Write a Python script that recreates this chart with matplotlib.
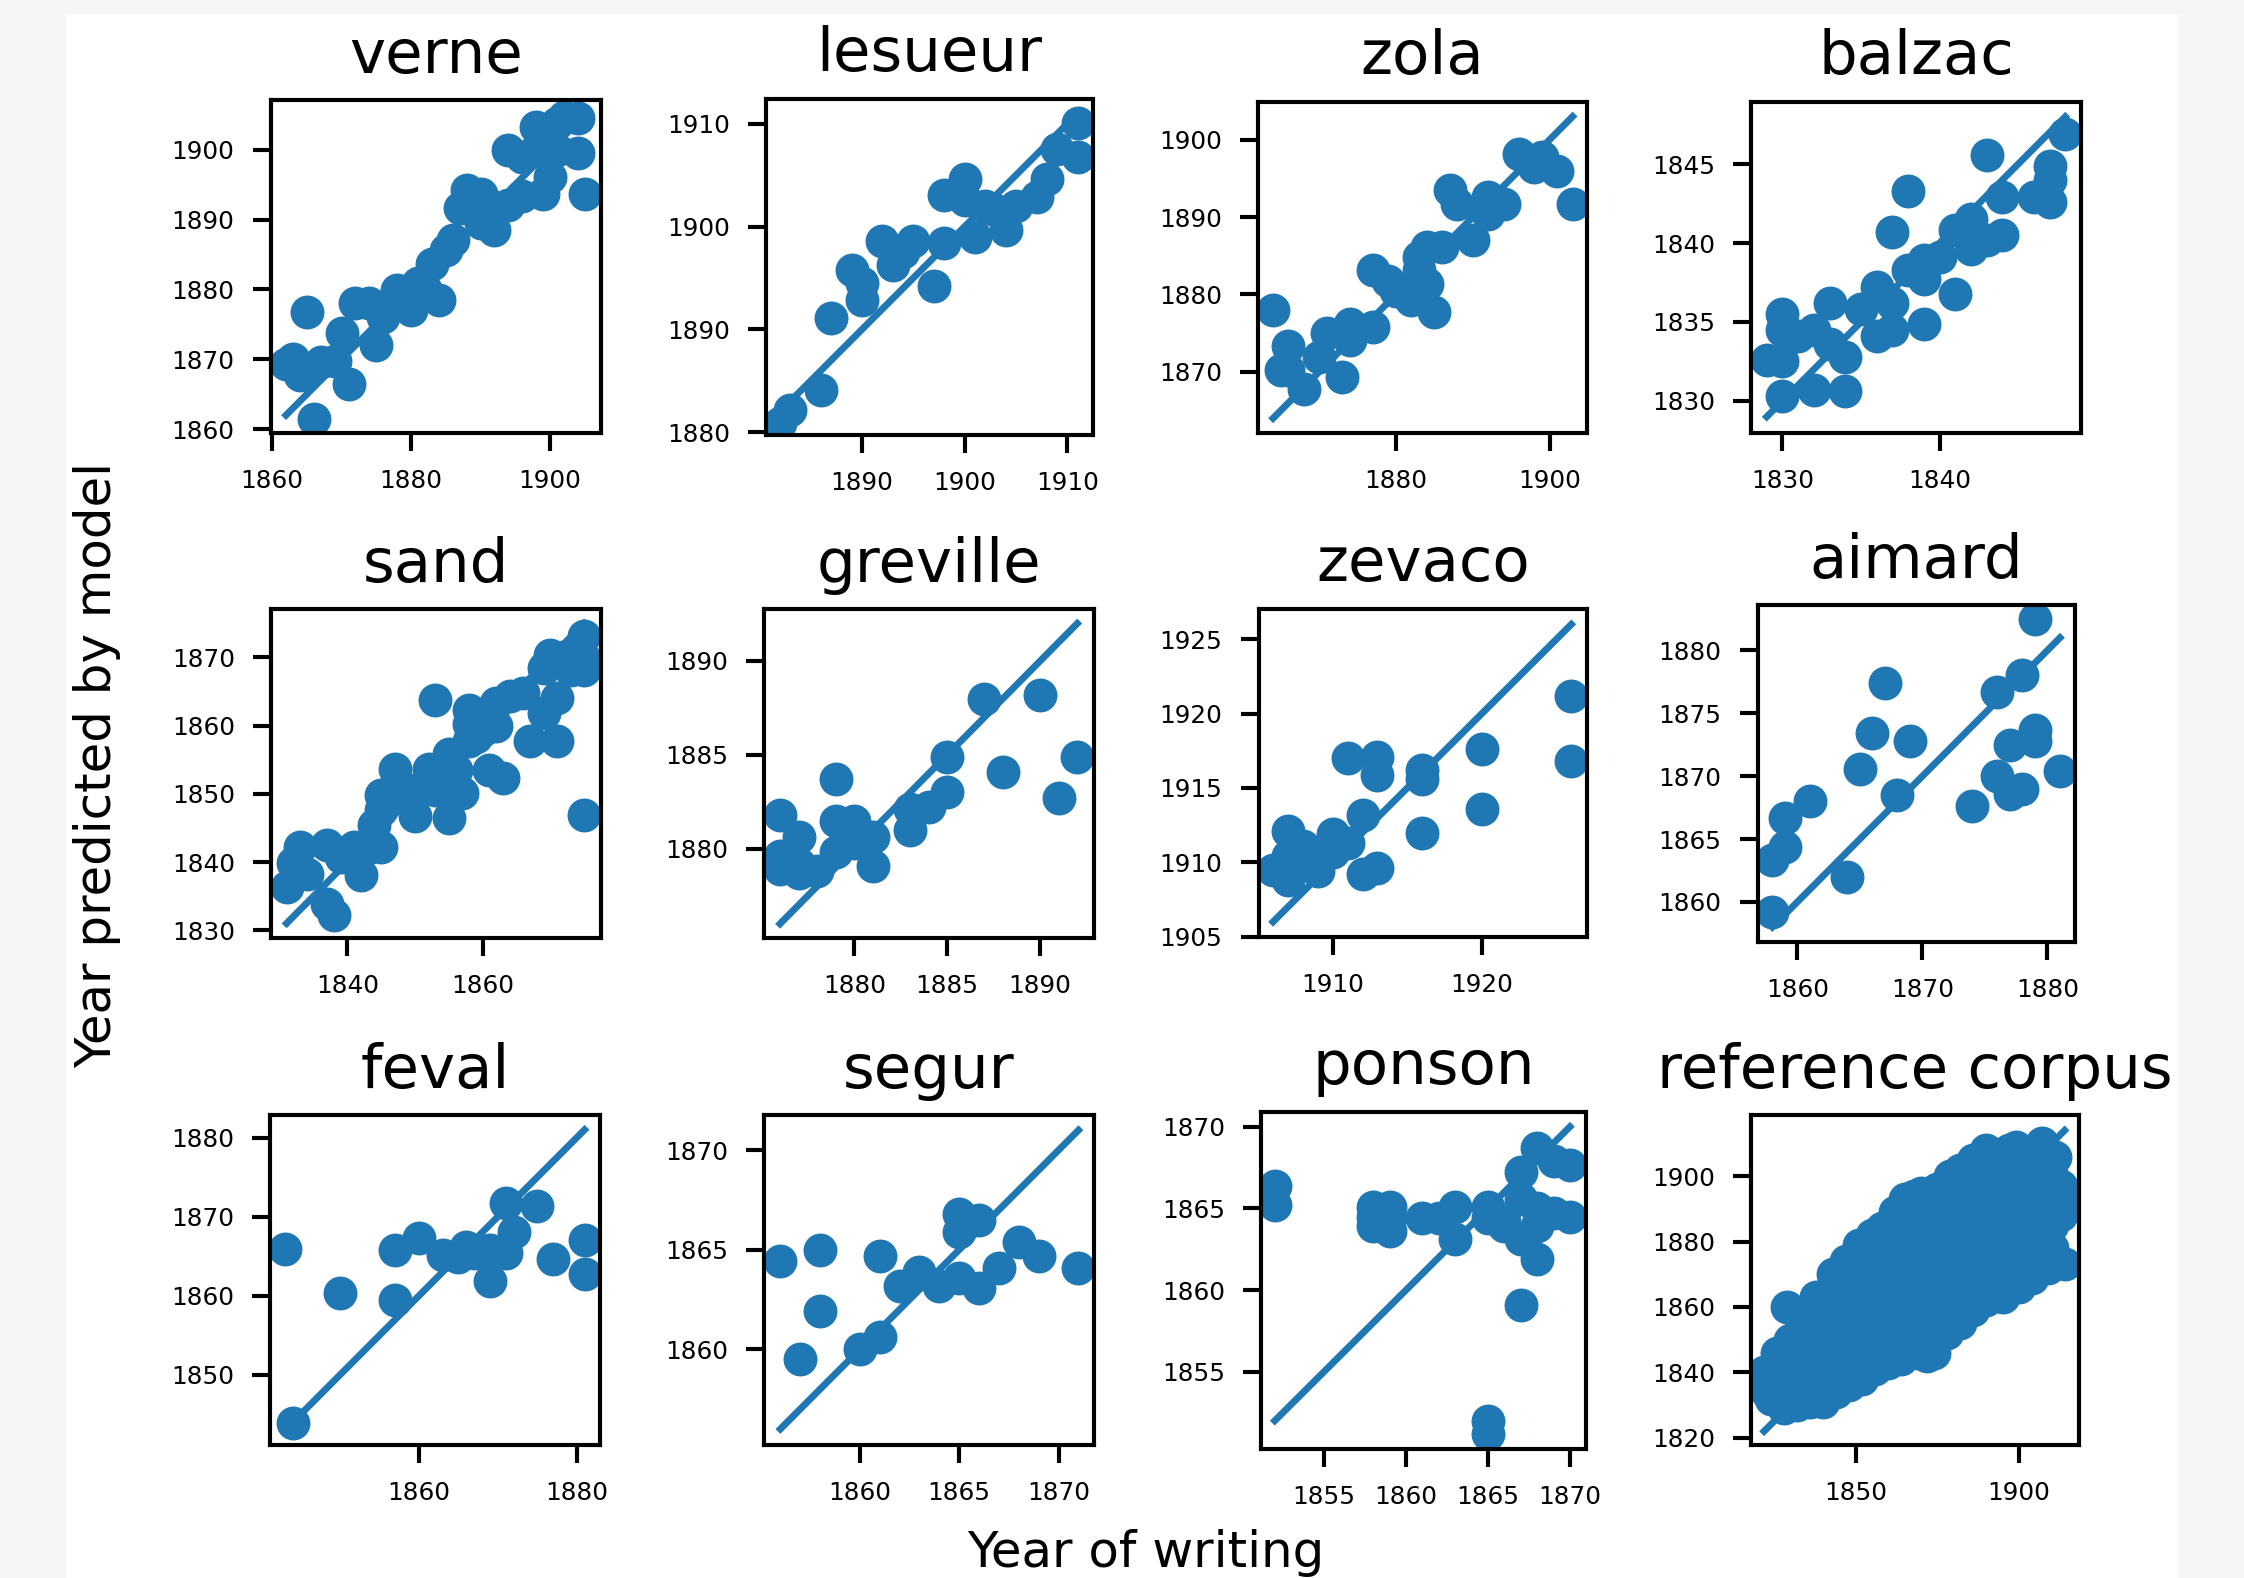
import matplotlib
matplotlib.use("Agg")
import matplotlib.pyplot as plt
from matplotlib.patches import Rectangle

W, H = 2244, 1578
DPI = 330

# ---------------- data ----------------
titles = ["verne", "lesueur", "zola", "balzac",
          "sand", "greville", "zevaco", "aimard",
          "feval", "segur", "ponson", "reference corpus"]

verne_x = [1862, 1863, 1864, 1865, 1866, 1867, 1869, 1870, 1871, 1872, 1874, 1875, 1876, 1877,
           1878, 1879, 1880, 1881, 1882, 1883, 1884, 1885, 1886, 1887, 1888, 1890, 1890, 1892,
           1892, 1894, 1894, 1896, 1896, 1898, 1898, 1899, 1900, 1901, 1901, 1902, 1904, 1904, 1905]
verne_y = [1869.4, 1870.1, 1867.7, 1876.8, 1861.5, 1869.6, 1869.8, 1873.7, 1866.5, 1878.0, 1878.0,
           1872.0, 1876.1, 1877.5, 1879.9, 1879.0, 1877.0, 1880.9, 1880.0, 1883.7, 1878.5, 1885.6,
           1887.1, 1891.6, 1894.2, 1893.7, 1889.5, 1888.5, 1891.8, 1892.1, 1900.0, 1893.3, 1899.0,
           1903.3, 1900.0, 1893.7, 1896.1, 1900.0, 1903.8, 1904.7, 1904.5, 1899.5, 1893.7]

lesueur_x = [1882, 1883, 1886, 1887, 1889, 1890, 1890, 1892, 1893, 1894, 1895, 1897, 1898, 1898,
             1900, 1900, 1901, 1902, 1903, 1904, 1905, 1907, 1908, 1909, 1911, 1911]
lesueur_y = [1880.9, 1882.2, 1884.1, 1891.1, 1895.8, 1894.5, 1892.9, 1898.6, 1896.3, 1897.5, 1898.6,
             1894.2, 1898.4, 1903.1, 1904.6, 1902.6, 1899.0, 1902.0, 1901.6, 1899.7, 1902.0, 1902.9,
             1904.6, 1907.5, 1910.1, 1906.8]

zola_x = [1864, 1865, 1866, 1866, 1868, 1870, 1871, 1873, 1874, 1874, 1877, 1877, 1879, 1880, 1882,
          1883, 1883, 1884, 1884, 1885, 1886, 1887, 1888, 1890, 1892, 1892, 1894, 1896, 1898, 1899,
          1901, 1903]
zola_y = [1878.0, 1870.2, 1873.4, 1870.2, 1867.8, 1871.9, 1875.0, 1869.4, 1874.1, 1876.2, 1875.8,
          1883.1, 1881.8, 1880.5, 1879.3, 1883.1, 1884.9, 1881.4, 1886.1, 1877.7, 1886.1, 1893.5,
          1891.7, 1887.0, 1892.6, 1890.4, 1891.7, 1898.2, 1896.5, 1897.8, 1896.0, 1891.7]

balzac_x = [1829, 1830, 1830, 1830, 1830, 1831, 1832, 1832, 1833, 1833, 1834, 1834, 1835, 1836,
            1836, 1837, 1837, 1837, 1838, 1838, 1839, 1839, 1839, 1840, 1841, 1841, 1842, 1842,
            1843, 1844, 1843, 1844, 1846, 1847, 1847, 1847, 1848]
balzac_y = [1832.6, 1835.5, 1834.5, 1832.5, 1830.3, 1834.1, 1830.7, 1834.5, 1836.2, 1833.6, 1832.8,
            1830.6, 1835.8, 1837.2, 1834.1, 1834.5, 1836.2, 1840.7, 1843.3, 1838.3, 1837.7, 1834.9,
            1838.9, 1839.1, 1836.8, 1840.8, 1841.5, 1839.6, 1840.2, 1840.5, 1845.6, 1842.9, 1842.9,
            1842.6, 1844.9, 1844.0, 1846.9]

sand_x = [1831, 1833, 1832, 1834, 1837, 1838, 1837, 1839, 1841, 1842, 1843, 1844, 1845, 1845, 1845,
          1847, 1847, 1848, 1850, 1850, 1852, 1853, 1853, 1855, 1855, 1857, 1856, 1858, 1858, 1858,
          1860, 1859, 1861, 1861, 1863, 1862, 1862, 1864, 1866, 1867, 1869, 1869, 1871, 1871, 1872,
          1870, 1873, 1875, 1875, 1875, 1875]
sand_y = [1836.4, 1842.2, 1839.8, 1838.3, 1842.5, 1832.2, 1833.9, 1840.8, 1842.2, 1838.1, 1842.0,
          1845.4, 1842.2, 1847.6, 1849.8, 1853.7, 1851.0, 1850.0, 1846.8, 1850.6, 1853.7, 1863.8,
          1850.6, 1846.4, 1855.9, 1850.1, 1853.5, 1857.8, 1862.3, 1860.3, 1859.4, 1858.4, 1861.3,
          1853.5, 1852.3, 1859.9, 1863.3, 1864.3, 1864.8, 1857.7, 1868.4, 1861.8, 1864.0, 1857.7,
          1870.1, 1870.4, 1868.2, 1873.1, 1868.2, 1869.9, 1846.9]

greville_x = [1876, 1876, 1876, 1877, 1877, 1877, 1878, 1879, 1879, 1879, 1880, 1880, 1881, 1881,
              1883, 1883, 1884, 1885, 1885, 1887, 1888, 1890, 1891, 1892]
greville_y = [1881.8, 1878.9, 1879.6, 1880.6, 1878.7, 1879.2, 1878.8, 1879.8, 1883.7, 1881.5,
              1880.3, 1881.5, 1880.6, 1879.1, 1881.0, 1882.1, 1882.2, 1883.0, 1884.9, 1888.0,
              1884.1, 1888.2, 1882.7, 1884.9]

zevaco_x = [1906, 1907, 1907, 1907, 1908, 1908, 1909, 1910, 1910, 1911, 1911, 1912, 1912, 1913,
            1913, 1913, 1916, 1916, 1916, 1920, 1920, 1926, 1926]
zevaco_y = [1909.5, 1912.1, 1908.8, 1910.4, 1911.1, 1909.8, 1909.4, 1911.9, 1910.7, 1911.3, 1917.0,
            1913.2, 1909.2, 1917.1, 1915.9, 1909.6, 1916.2, 1915.6, 1912.0, 1917.6, 1913.6, 1921.2,
            1916.8]

aimard_x = [1858, 1858, 1859, 1859, 1861, 1864, 1865, 1866, 1867, 1868, 1869, 1874, 1876, 1876,
            1877, 1877, 1878, 1878, 1879, 1879, 1879, 1881]
aimard_y = [1859.2, 1863.3, 1866.7, 1864.4, 1868.0, 1862.0, 1870.6, 1873.4, 1877.4, 1868.5, 1872.8,
            1867.6, 1876.7, 1870.0, 1872.5, 1868.6, 1869.0, 1878.0, 1873.7, 1872.8, 1882.5, 1870.4]

feval_x = [1843, 1844, 1850, 1857, 1857, 1860, 1863, 1865, 1866, 1867, 1869, 1869, 1871, 1871,
           1872, 1875, 1877, 1881, 1881]
feval_y = [1865.9, 1843.9, 1860.4, 1865.8, 1859.5, 1867.3, 1865.1, 1864.9, 1866.2, 1865.4, 1861.8,
           1865.8, 1865.4, 1871.7, 1868.1, 1871.4, 1864.7, 1867.1, 1862.8]

segur_x = [1856, 1858, 1858, 1857, 1861, 1860, 1861, 1862, 1863, 1864, 1865, 1865, 1865, 1866,
           1866, 1867, 1868, 1869, 1871]
segur_y = [1864.45, 1865.0, 1861.9, 1859.5, 1864.7, 1860.0, 1860.6, 1863.2, 1863.9, 1863.2, 1863.6,
           1865.9, 1866.8, 1866.5, 1863.1, 1864.1, 1865.4, 1864.7, 1864.1]

ponson_x = [1852, 1852, 1858, 1858, 1858, 1859, 1859, 1859, 1861, 1862, 1863, 1863, 1865, 1865,
            1865, 1865, 1866, 1867, 1867, 1867, 1866, 1868, 1868, 1868, 1867, 1868, 1869, 1870,
            1870, 1869]
ponson_y = [1866.4, 1865.2, 1865.1, 1863.9, 1864.5, 1865.1, 1863.6, 1864.4, 1864.4, 1864.4, 1865.1,
            1863.1, 1865.1, 1864.4, 1852.0, 1851.2, 1863.9, 1867.2, 1859.1, 1865.6, 1864.2, 1868.7,
            1861.9, 1865.0, 1863.1, 1863.9, 1867.9, 1867.65, 1864.5, 1864.7]

ref_x = [1822, 1823, 1824, 1826, 1828, 1829, 1832, 1833, 1836, 1838, 1840, 1843, 1844, 1847, 1848,
         1851, 1852, 1855, 1856, 1858, 1860, 1862, 1864, 1865, 1869, 1870, 1872, 1874, 1875, 1878,
         1879, 1882, 1882, 1886, 1886, 1890, 1890, 1894, 1895, 1897, 1900, 1901, 1904, 1904, 1907,
         1909, 1911, 1913, 1913, 1914, 1914, 1868, 1888, 1899,
         1826, 1826, 1830, 1830, 1830, 1834, 1834, 1834, 1838, 1838, 1838, 1838,
         1842, 1842, 1842, 1842, 1846, 1846, 1846, 1846, 1846, 1850, 1850, 1850, 1850, 1850,
         1854, 1854, 1854, 1854, 1854, 1858, 1858, 1858, 1858, 1858,
         1862, 1862, 1862, 1862, 1862, 1862, 1866, 1866, 1866, 1866, 1866, 1866,
         1870, 1870, 1870, 1870, 1870, 1870, 1874, 1874, 1874, 1874, 1874, 1874,
         1878, 1878, 1878, 1878, 1878, 1878, 1882, 1882, 1882, 1882, 1882, 1882,
         1886, 1886, 1886, 1886, 1886, 1886, 1890, 1890, 1890, 1890, 1890,
         1894, 1894, 1894, 1894, 1894, 1898, 1898, 1898, 1898, 1898,
         1902, 1902, 1902, 1902, 1902, 1906, 1906, 1906, 1906, 1906, 1910, 1910, 1910, 1910]
ref_y = [1840, 1834, 1832, 1846, 1829, 1860, 1830, 1858, 1831, 1863, 1831, 1870, 1834, 1874, 1836,
         1879, 1838, 1882, 1841, 1884, 1843, 1889, 1844, 1893, 1846, 1895, 1845, 1846, 1896, 1852,
         1900, 1855, 1902, 1859, 1905, 1862, 1908, 1906, 1863, 1908, 1866, 1906, 1869, 1907, 1910,
         1872, 1906, 1897, 1888, 1892, 1873, 1894, 1904, 1909,
         1835, 1840, 1836, 1843, 1850, 1837, 1844, 1851, 1838, 1845, 1852, 1857,
         1840, 1847, 1854, 1861, 1842, 1849, 1856, 1863, 1868, 1843, 1850, 1857, 1864, 1871,
         1846, 1853, 1860, 1867, 1874, 1848, 1855, 1862, 1869, 1876,
         1850, 1857, 1864, 1871, 1878, 1883, 1851, 1858, 1865, 1872, 1879, 1886,
         1853, 1860, 1867, 1874, 1881, 1888, 1853, 1860, 1867, 1874, 1881, 1889,
         1858, 1865, 1872, 1879, 1886, 1893, 1861, 1868, 1875, 1882, 1889, 1896,
         1865, 1872, 1879, 1886, 1893, 1900, 1869, 1876, 1883, 1890, 1899,
         1870, 1877, 1884, 1891, 1899, 1871, 1878, 1885, 1892, 1901,
         1872, 1879, 1886, 1893, 1901, 1874, 1881, 1888, 1895, 1903, 1878, 1885, 1892, 1900]

xs = [verne_x, lesueur_x, zola_x, balzac_x, sand_x, greville_x, zevaco_x, aimard_x,
      feval_x, segur_x, ponson_x, ref_x]
ys = [verne_y, lesueur_y, zola_y, balzac_y, sand_y, greville_y, zevaco_y, aimard_y,
      feval_y, segur_y, ponson_y, ref_y]

xticks = [[1860, 1880, 1900], [1890, 1900, 1910], [1880, 1900], [1830, 1840],
          [1840, 1860], [1880, 1885, 1890], [1910, 1920], [1860, 1870, 1880],
          [1860, 1880], [1860, 1865, 1870], [1855, 1860, 1865, 1870], [1850, 1900]]
yticks = [[1860, 1870, 1880, 1890, 1900], [1880, 1890, 1900, 1910], [1870, 1880, 1890, 1900],
          [1830, 1835, 1840, 1845], [1830, 1840, 1850, 1860, 1870], [1880, 1885, 1890],
          [1905, 1910, 1915, 1920, 1925], [1860, 1865, 1870, 1875, 1880], [1850, 1860, 1870, 1880],
          [1860, 1865, 1870], [1855, 1860, 1865, 1870], [1820, 1840, 1860, 1880, 1900]]

# ---------------- layout (pixel boxes measured on the reference) ----------------
xlims = [(1859.8, 1907.3), (1880.66, 1912.5), (1862.04, 1904.87), (1828.0, 1849.0),
         (1828.7, 1877.5), (1875.14, 1892.9), (1905.04, 1927.05), (1856.83, 1882.2),
         (1841.1, 1882.96), (1855.18, 1871.78), (1851.16, 1870.96), (1818.0, 1918.4)]
ylims = [(1859.5, 1907.1), (1879.74, 1912.4), (1862.1, 1904.87), (1827.97, 1848.93),
         (1828.9, 1877.1), (1875.26, 1892.77), (1905.07, 1927.03), (1856.84, 1883.6),
         (1841.1, 1882.87), (1855.2, 1871.76), (1850.27, 1870.92), (1817.8, 1918.7)]
boxes = [(270.7, 600.7, 100, 432.7), (766, 1093, 99, 435), (1258, 1587, 102, 433),
         (1751, 2081, 102, 433),
         (271, 601, 609, 937.7), (764, 1094, 609, 937.7), (1258.7, 1587, 609, 936.7),
         (1757.7, 2075, 605, 941.7),
         (270, 600, 1115, 1445), (764, 1094, 1115, 1445), (1261, 1585.7, 1111.7, 1449),
         (1751, 2079, 1115, 1445)]

BLUE = "#1f77b4"

fig = plt.figure(figsize=(W / DPI, H / DPI), dpi=DPI, facecolor="#f6f6f4")
fig.patches.append(Rectangle((66 / W, 0), (2178 - 66) / W, 1 - 14 / H,
                             transform=fig.transFigure, facecolor="white",
                             edgecolor="none", zorder=-10))

for i in range(12):
    x0, x1, y0, y1 = boxes[i]
    ax = fig.add_axes([x0 / W, 1 - y1 / H, (x1 - x0) / W, (y1 - y0) / H])
    x = xs[i]
    y = ys[i]
    ax.scatter(x, y, s=7.4 ** 2, color=BLUE, linewidths=0, zorder=2)
    lo, hi = min(x), max(x)
    ax.plot([lo, hi], [lo, hi], color=BLUE, lw=1.5, zorder=3)
    ax.set_xlim(*xlims[i])
    ax.set_ylim(*ylims[i])
    ax.set_xticks(xticks[i])
    ax.set_yticks(yticks[i])
    ax.tick_params(length=3.9, width=0.9, pad=4.0, labelsize=5.4)
    for sp in ax.spines.values():
        sp.set_linewidth(0.9)
    ax.set_title(titles[i], fontsize=13.3, pad=6)

fig.text(1146 / W, 1 - 1567 / H, "Year of writing", ha="center", va="baseline",
         fontsize=10.9)
fig.text(97 / W, 1 - 765 / H, "Year predicted by model", ha="center", va="center",
         rotation=90, fontsize=10.9)

fig.savefig("out.png", dpi=DPI, facecolor=fig.get_facecolor())
